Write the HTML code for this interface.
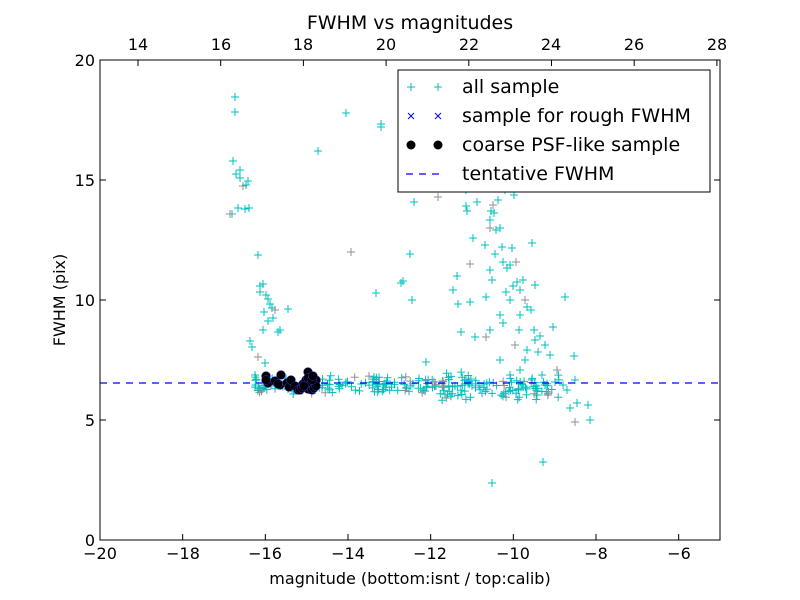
<!DOCTYPE html>
<html><head><meta charset="utf-8"><style>
html,body{margin:0;padding:0;background:#fff;width:800px;height:600px;overflow:hidden}
svg{font-family:"DejaVu Sans","Liberation Sans",sans-serif}
</style></head><body>
<svg id="s" width="800" height="600" xmlns="http://www.w3.org/2000/svg">
<rect x="0" y="0" width="800" height="600" fill="#fff"/>
<g id="pts"></g>
<line x1="100" y1="383" x2="720" y2="383" stroke="#0000ff" stroke-width="1.3" stroke-dasharray="7,6"/>
<g id="dots"></g>
<rect x="100" y="60" width="620" height="480" fill="none" stroke="#000" stroke-width="1"/>
<g id="ticks" stroke="#000" stroke-width="1"></g>
<g font-size="16" fill="#000" text-anchor="middle">
<text x="100" y="559">−20</text><text x="183" y="559">−18</text><text x="265" y="559">−16</text><text x="348" y="559">−14</text><text x="430" y="559">−12</text><text x="513" y="559">−10</text><text x="596" y="559">−8</text><text x="679" y="559">−6</text>
<text x="138" y="50">14</text><text x="221" y="50">16</text><text x="303" y="50">18</text><text x="386" y="50">20</text><text x="469" y="50">22</text><text x="551" y="50">24</text><text x="634" y="50">26</text><text x="717" y="50">28</text>
</g>
<g font-size="16" fill="#000" text-anchor="end">
<text x="95" y="66">20</text><text x="95" y="186">15</text><text x="95" y="306">10</text><text x="95" y="426">5</text><text x="95" y="546">0</text>
</g>
<text x="410" y="584" font-size="16" text-anchor="middle">magnitude (bottom:isnt / top:calib)</text>
<text x="410" y="29" font-size="19" text-anchor="middle">FWHM vs magnitudes</text>
<text transform="translate(65,300) rotate(-90)" font-size="16" text-anchor="middle">FWHM (pix)</text>
<rect x="398" y="70" width="312" height="122" fill="#fff" stroke="#000"/>
<g stroke="#00bfbf" stroke-width="1"><path d="M407 87h8M411 83v8M434 87h8M438 83v8"/></g>
<g stroke="#0000ff"><path d="M408 113l6 6M414 113l-6 6M435 113l6 6M441 113l-6 6"/></g>
<circle cx="411" cy="145" r="4.5" fill="#000"/><circle cx="438" cy="145" r="4.5" fill="#000"/>
<line x1="406" y1="174" x2="442" y2="174" stroke="#0000ff" stroke-width="1.3" stroke-dasharray="7,6"/>
<g font-size="19" fill="#000"><text x="462" y="93">all sample</text><text x="462" y="122">sample for rough FWHM</text><text x="462" y="151">coarse PSF-like sample</text><text x="462" y="180">tentative FWHM</text></g>
</svg>
<script>
var NS="http://www.w3.org/2000/svg";
var P=[[235,97],[235,112],[233,161],[240,170],[243,186],[240,178],[236,174],[246,185],[248,181],[238,208],[232,214],[249,208],[245,209],[230,214],[258,255],[260,286],[263,284],[260,292],[266,295],[268,299],[270,304],[272,308],[275,310],[273,318],[268,321],[288,309],[280,330],[263,330],[264,312],[250,341],[252,347],[258,357],[265,363],[278,332],[255,375],
[346,113],[381,124],[381,127],[318,151],[414,202],[351,252],[410,254],[401,283],[403,281],[376,293],[412,300],[426,362],[436,386],[455,386],
[438,197],[464,185],[466,190],[475,177],[466,206],[467,211],[477,202],[473,238],[490,220],[493,205],[498,200],[505,190],[509,175],[514,195],[519,170],[525,160],[491,211],[494,213],[490,228],[500,228],[496,230],[502,247],[495,254],[503,262],[510,265],[507,268],[512,248],[516,262],[517,282],[520,290],[523,280],[532,243],[535,285],[527,307],[513,286],[486,297],[470,264],[485,245],[490,270],[506,292],[510,300],[500,315],[492,280],[503,323],[519,330],[486,337],[457,276],[453,290],[470,302],[458,304],[461,332],[475,337],[490,330],[520,315],[525,300],[531,310],[534,330],[535,340],[538,352],[540,336],[545,345],[550,355],[553,327],[557,370],[565,297],[574,356],[563,385],[567,390],[575,380],[555,382],[542,375],[527,350],[515,345],[520,370],[500,360],[510,375],[525,360],[545,385],[537,395],[543,462],[492,483],[575,422],[570,408],[588,405],[590,420],[577,403]];
var seed=7;function r(){seed=(seed*16807)%2147483647;return seed/2147483647;}
for(var i=0;i<260;i++){var x=255+r()*305;var y=385+(r()+r()-1)*10;if(x>440)y+=(r()-0.4)*14;P.push([x,y]);}
var d="",g="";
P.forEach(function(p,i){var s="M"+(p[0]-4).toFixed(1)+" "+p[1].toFixed(1)+"h8M"+p[0].toFixed(1)+" "+(p[1]-4).toFixed(1)+"v8";if(i%9==4)g+=s;else d+=s;});
var pts=document.getElementById("pts");
var a=document.createElementNS(NS,"path");a.setAttribute("d",d);a.setAttribute("stroke","#00bfbf");a.setAttribute("fill","none");pts.appendChild(a);
var b=document.createElementNS(NS,"path");b.setAttribute("d",g);b.setAttribute("stroke","#909090");b.setAttribute("fill","none");pts.appendChild(b);
var dots=document.getElementById("dots");
var D=[[266,376],[268,383],[275,381],[281,375],[280,385],[287,383],[289,387],[291,380],[295,386],[298,390],[300,390],[303,384],[306,380],[308,372],[308,378],[308,389],[310,385],[312,390],[314,388],[316,380],[316,386],[312,380],[266,380],[278,384],[302,388],[304,386],[313,376]];
D.forEach(function(p){var c=document.createElementNS(NS,"circle");c.setAttribute("cx",p[0]);c.setAttribute("cy",p[1]);c.setAttribute("r",4.5);c.setAttribute("fill","#000");c.setAttribute("stroke","#4040ff");c.setAttribute("stroke-width","0.4");dots.appendChild(c);});
var t="";
for(var k=0;k<8;k++){var x=100+k*620/15*2;t+="M"+x+" 540v-6M"+x+" 60v0";}
for(var k=0;k<8;k++){var x=138+k*82.7;t+="M"+x+" 60v6";}
for(var k=0;k<5;k++){var y=540-k*120;t+="M100 "+y+"h6M720 "+y+"h-6";}
var tk=document.createElementNS(NS,"path");tk.setAttribute("d",t);tk.setAttribute("stroke","#000");document.getElementById("ticks").appendChild(tk);
</script>
</body></html>
